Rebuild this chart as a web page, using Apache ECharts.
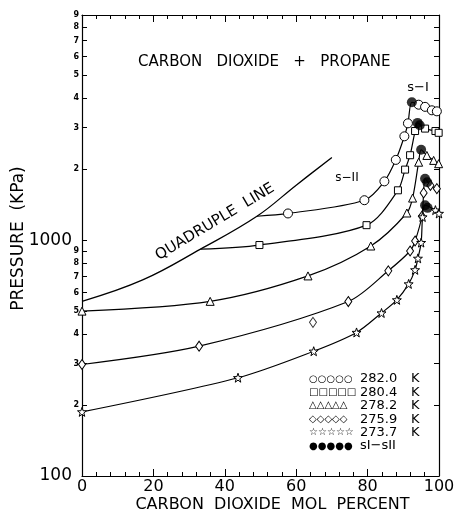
<!DOCTYPE html>
<html>
<head>
<meta charset="utf-8">
<script src="https://cdn.jsdelivr.net/npm/echarts@6/dist/echarts.min.js"></script>
</head>
<body style="margin: 0">
<div id="container" style="width: 455px; height: 513px"></div>
<script type="text/javascript">
    // CO2 mol percent / pressure kPa
    var quadX = [0, 17, 33.2, 49, 60, 70];
    var quadP = [550, 678, 916, 1262, 1710, 2240];

    var t282X = [49, 57.7, 79.1, 84.7, 87.9, 90.3, 91.3, 92.4, 94.3, 96.1, 98.0, 99.4];
    var t282P = [1262, 1297, 1476, 1774, 2188, 2754, 3126, 3840, 3750, 3672, 3550, 3515];

    var t280X = [33.2, 49.7, 79.7, 88.5, 90.5, 91.9, 93.3, 94.0, 96.1, 99.0, 99.9];
    var t280P = [916, 953, 1157, 1626, 1990, 2290, 2900, 3140, 2970, 2900, 2850];

    var t278X = [0, 35.9, 63.3, 80.9, 91.0, 92.6, 94.3, 95.0, 96.6, 98.5, 99.9];
    var t278P = [500, 550, 705, 944, 1303, 1507, 2139, 2415, 2285, 2177, 2108];

    var t276X = [0, 32.8, 74.6, 85.8, 91.9, 93.3, 95.2, 95.7, 96.1, 97.6, 99.4];
    var t276P = [297, 355, 549, 741, 899, 991, 1262, 1585, 1820, 1706, 1652];
    var t276OffX = [64.7];
    var t276OffP = [448];

    var t274X = [0, 43.7, 64.9, 76.9, 83.9, 88.2, 91.5, 93.3, 94.1, 95.0, 95.4, 96.1, 99.0, 100];
    var t274P = [187, 261, 338, 406, 491, 558, 652, 748, 837, 976, 1253, 1405, 1340, 1297];

    var sIX = [92.4, 94.0, 94.6, 95.0, 96.1, 96.7, 96.1, 96.8];
    var sIP = [3840, 3140, 3070, 2415, 1820, 1760, 1405, 1370];

    var pTicks = [100, 200, 300, 400, 500, 600, 700, 800, 900,
        1000, 2000, 3000, 4000, 5000, 6000, 7000, 8000, 9000];

    var legendNames = ['282.0', '280.4', '278.2', '275.9', '273.7', 'sI\u2212sII'];
    var legendGlyphs = ['\u25CB', '\u25A1', '\u25B3', '\u25C7', '\u2606', '\u25CF'];

    var starPath = 'path://M0,-10L2.35,-3.24L9.51,-3.09L3.8,1.24L5.88,8.09L0,4L-5.88,8.09L-3.8,1.24L-9.51,-3.09L-2.35,-3.24Z';
    var font = 'DejaVu Sans';

    var dom = document.getElementById('container');
    var myChart = echarts.init(dom);

    function pairs(xs, ps, onQuad) {
        var maxP = Math.max.apply(null, ps);
        return xs.map(function (x, i) {
            var item = { value: [x, ps[i]] };
            if ((onQuad && i === 0) || ps[i] === maxP) item.symbol = 'none';
            return item;
        });
    }

    function curve(name, data, symbol, size) {
        return {
            name: name,
            type: 'line',
            smooth: 0.3,
            symbol: symbol,
            symbolSize: size,
            showAllSymbol: true,
            lineStyle: { color: '#000', width: 1.2 },
            itemStyle: { color: '#fff', borderColor: '#000', borderWidth: 1 },
            data: data,
            z: 3
        };
    }

    var logMin = Math.log10(100), logMax = Math.log10(9000);
    var logTicks = pTicks.map(function (p) { return Math.log10(p); });

    var legendGraphics = [];
    legendNames.forEach(function (n, i) {
        var y = 379 + i * 13.4;
        legendGraphics.push({
            type: 'text',
            style: {
                x: 309, y: y, text: new Array(6).join(legendGlyphs[i]),
                font: '10px "' + font + '"', fill: '#000', textVerticalAlign: 'middle'
            }
        });
        legendGraphics.push({
            type: 'text',
            style: {
                x: 360, y: y, text: n,
                font: '13px "' + font + '"', fill: '#000', textVerticalAlign: 'middle'
            }
        });
        if (i < 5) {
            legendGraphics.push({
                type: 'text',
                style: {
                    x: 411, y: y, text: 'K',
                    font: '13px "' + font + '"', fill: '#000', textVerticalAlign: 'middle'
                }
            });
        }
    });

    var option = {
        backgroundColor: '#fff',
        animation: false,
        grid: { left: 82, right: 16, top: 15, bottom: 37, outerBoundsMode: 'none', containLabel: false },
        xAxis: [{
            type: 'value', min: 0, max: 100, interval: 20, position: 'bottom',
            name: 'CARBON  DIOXIDE  MOL  PERCENT', nameLocation: 'middle', nameGap: 21,
            nameMoveOverlap: false,
            nameTextStyle: { fontFamily: font, fontSize: 16, color: '#000', padding: [0, 0, 0, 24] },
            axisLine: { lineStyle: { color: '#000', width: 1.2 } },
            axisTick: { inside: true, length: 7, lineStyle: { color: '#000' } },
            minorTick: { show: true, splitNumber: 5, length: 4, lineStyle: { color: '#000' } },
            axisLabel: { margin: 3, fontFamily: font, fontSize: 16, color: '#000' },
            splitLine: { show: false }
        }, {
            type: 'value', min: 0, max: 100, interval: 20, position: 'top',
            axisLine: { lineStyle: { color: '#000', width: 1.2 } },
            axisTick: { inside: true, length: 7, lineStyle: { color: '#000' } },
            minorTick: { show: true, splitNumber: 5, length: 4, lineStyle: { color: '#000' } },
            axisLabel: { show: false },
            splitLine: { show: false }
        }],
        yAxis: [{
            type: 'log', logBase: 10, min: 100, max: 9000, position: 'left',
            axisLine: { show: true, lineStyle: { color: '#000', width: 1.2 } },
            axisTick: { show: false },
            axisLabel: { show: false },
            splitLine: { show: false }
        }, {
            type: 'value', min: logMin, max: logMax, position: 'left',
            name: 'PRESSURE  (KPa)', nameLocation: 'middle', nameGap: 55,
            nameMoveOverlap: false,
            nameTextStyle: { fontFamily: font, fontSize: 17, color: '#000', padding: [0, 0, 0, 14] },
            axisLine: { show: false },
            axisTick: { inside: true, length: 5, customValues: logTicks, lineStyle: { color: '#000' } },
            axisLabel: {
                customValues: logTicks, margin: 3, color: '#000',
                formatter: function (v) {
                    var p = Math.round(Math.pow(10, v));
                    if (p === 100 || p === 1000) return '{big|' + p + '}';
                    return '{small|' + String(p).charAt(0) + '}';
                },
                rich: {
                    big: { fontFamily: font, fontSize: 17, color: '#000', padding: [0, 7, 0, 0] },
                    small: { fontFamily: font, fontSize: 8, fontWeight: 'bold', color: '#000' }
                }
            },
            splitLine: { show: false }
        }, {
            type: 'value', min: logMin, max: logMax, position: 'right',
            axisLine: { show: true, lineStyle: { color: '#000', width: 1.2 } },
            axisTick: { inside: true, length: 5, customValues: logTicks, lineStyle: { color: '#000' } },
            axisLabel: { show: false },
            splitLine: { show: false }
        }],
        series: [
            {
                name: 'Quadruple line', type: 'line', smooth: 0.4, symbol: 'none',
                lineStyle: { color: '#000', width: 1.3 },
                data: pairs(quadX, quadP, false), z: 2
            },
            curve('282.0 K', pairs(t282X, t282P, true), 'circle', 9),
            curve('280.4 K', pairs(t280X, t280P, true), 'rect', 7),
            curve('278.2 K', pairs(t278X, t278P, false), 'triangle', 8),
            curve('275.9 K', pairs(t276X, t276P, false), 'diamond', [7, 10]),
            {
                name: '275.9 K', type: 'scatter', symbol: 'diamond', symbolSize: [7, 10],
                itemStyle: { color: '#fff', borderColor: '#000', borderWidth: 1 },
                data: t276OffX.map(function (x, i) { return [x, t276OffP[i]]; }), z: 3
            },
            curve('273.7 K', pairs(t274X, t274P, false), starPath, 9),
            {
                name: 'sI-sII', type: 'scatter', symbol: 'circle', symbolSize: 10,
                itemStyle: { color: '#000' },
                data: sIX.map(function (x, i) { return [x, sIP[i]]; }), z: 5
            }
        ],
        graphic: [
            {
                type: 'text',
                style: {
                    x: 138, y: 62, text: 'CARBON   DIOXIDE   +   PROPANE',
                    font: '15px "' + font + '"', fill: '#000', textVerticalAlign: 'middle'
                }
            },
            {
                type: 'text',
                style: {
                    x: 418, y: 88, text: 's\u2212I', textAlign: 'center',
                    font: '13px "' + font + '"', fill: '#000', textVerticalAlign: 'middle'
                }
            },
            {
                type: 'text',
                style: {
                    x: 347, y: 178, text: 's\u2212II', textAlign: 'center',
                    font: '12px "' + font + '"', fill: '#000', textVerticalAlign: 'middle'
                }
            },
            {
                type: 'text', x: 215, y: 222, rotation: 31 * Math.PI / 180,
                style: {
                    x: 0, y: 0, text: 'QUADRUPLE  LINE', textAlign: 'center',
                    font: '15px "' + font + '"', fill: '#000', textVerticalAlign: 'middle'
                }
            }
        ].concat(legendGraphics)
    };

    myChart.setOption(option);
</script>
</body>
</html>
